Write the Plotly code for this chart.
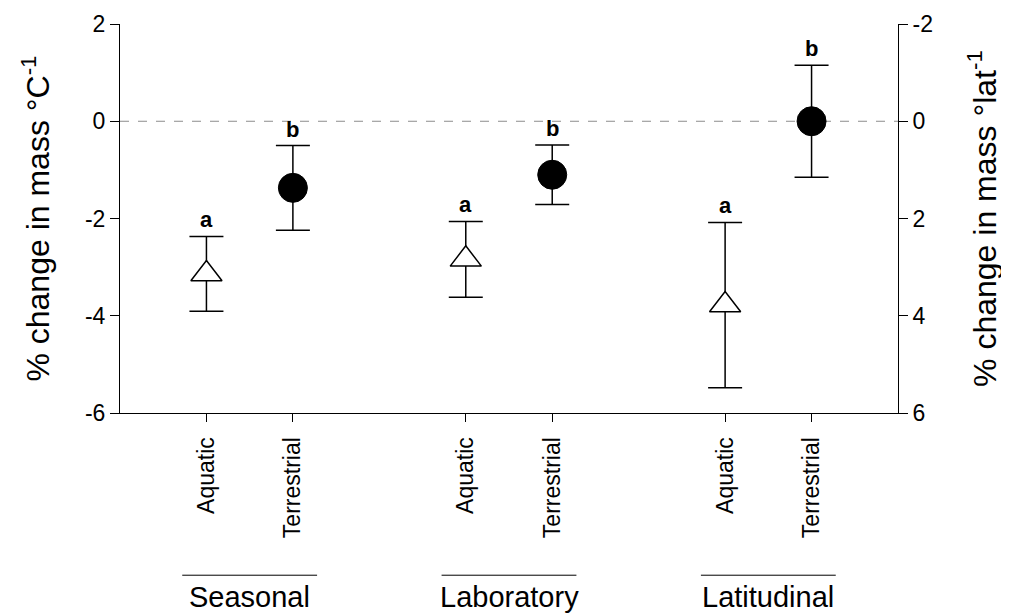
import plotly.graph_objects as go

# ---- data ----
groups = ["Seasonal", "Laboratory", "Latitudinal"]
positions = [1, 2, 4, 5, 7, 8]
tick_labels = ["Aquatic", "Terrestrial", "Aquatic", "Terrestrial", "Aquatic", "Terrestrial"]
left_ticks = [-6, -4, -2, 0, 2]
left_tick_text = ["-6", "-4", "-2", "0", "2"]
right_ticks = [-2, 0, 2, 4, 6]
right_tick_text = ["-2", "0", "2", "4", "6"]

# left axis (% change per °C): seasonal & laboratory
seasonal_mean = [-3.14, -1.37]
seasonal_err = [0.77, 0.87]
laboratory_mean = [-2.84, -1.10]
laboratory_err = [0.78, 0.61]
# right axis (% change per °lat, reversed): latitudinal
latitudinal_mean = [3.78, 0.0]
latitudinal_err = [1.70, 1.15]

letters = ["a", "b", "a", "b", "a", "b"]

FONT = "Liberation Sans, Arial, sans-serif"

fig = go.Figure()

def add_pair(xs, means, errs, yaxis):
    # aquatic: open triangle
    fig.add_trace(go.Scatter(
        x=[xs[0]], y=[means[0]], mode="markers", yaxis=yaxis,
        marker=dict(symbol="triangle-up", size=27, color="white",
                    line=dict(color="black", width=1.5)),
        error_y=dict(type="data", array=[errs[0]], visible=True,
                     color="black", thickness=1.5, width=17),
        showlegend=False, hoverinfo="skip"))
    # terrestrial: filled circle
    fig.add_trace(go.Scatter(
        x=[xs[1]], y=[means[1]], mode="markers", yaxis=yaxis,
        marker=dict(symbol="circle", size=29, color="black",
                    line=dict(color="black", width=1)),
        error_y=dict(type="data", array=[errs[1]], visible=True,
                     color="black", thickness=1.5, width=17),
        showlegend=False, hoverinfo="skip"))

add_pair(positions[0:2], seasonal_mean, seasonal_err, "y")
add_pair(positions[2:4], laboratory_mean, laboratory_err, "y")
add_pair(positions[4:6], latitudinal_mean, latitudinal_err, "y2")

# significance letters above the upper caps
tops = [m + e for m, e in zip(seasonal_mean, seasonal_err)] + \
       [m + e for m, e in zip(laboratory_mean, laboratory_err)]
for x, t, l in zip(positions[:4], tops, letters[:4]):
    fig.add_annotation(x=x, y=t, xref="x", yref="y", text="<b>%s</b>" % l,
                       showarrow=False, yanchor="bottom", yshift=2,
                       font=dict(family=FONT, size=22, color="black"))
lat_tops = [m - e for m, e in zip(latitudinal_mean, latitudinal_err)]
for x, t, l in zip(positions[4:], lat_tops, letters[4:]):
    fig.add_annotation(x=x, y=t, xref="x", yref="y2", text="<b>%s</b>" % l,
                       showarrow=False, yanchor="bottom", yshift=2,
                       font=dict(family=FONT, size=22, color="black"))

# dashed zero line
fig.add_shape(type="line", xref="paper", yref="y", x0=0, x1=1, y0=0, y1=0,
              line=dict(color="#8c8c8c", width=1, dash="dash"), layer="below")

# group labels with lines above them
for i, g in enumerate(groups):
    c = (positions[2 * i] + positions[2 * i + 1]) / 2
    fig.add_shape(type="line", xref="x", yref="paper", x0=c - 0.78, x1=c + 0.78,
                  y0=-0.417, y1=-0.417, line=dict(color="black", width=1))
    fig.add_annotation(x=c, y=-0.472, xref="x", yref="paper", text=g,
                       showarrow=False, yanchor="middle",
                       font=dict(family=FONT, size=29, color="black"))

fig.update_layout(
    width=1001, height=606,
    margin=dict(l=112, r=111, t=16, b=201, autoexpand=False),
    paper_bgcolor="white", plot_bgcolor="white",
    font=dict(family=FONT, color="black"),
    showlegend=False,
    xaxis=dict(range=[0, 9], tickmode="array", tickvals=positions,
               ticktext=tick_labels, tickangle=-90, automargin=False,
               ticks="outside", ticklen=8, tickwidth=1, tickcolor="black",
               ticklabelstandoff=6,
               showline=True, linecolor="black", linewidth=1,
               showgrid=False, zeroline=False,
               tickfont=dict(family=FONT, size=23, color="black")),
    yaxis=dict(range=[-6, 2], tickmode="array", tickvals=left_ticks,
               ticktext=left_tick_text, automargin=False,
               ticks="outside", ticklen=9, tickwidth=1, tickcolor="black",
               showline=True, linecolor="black", linewidth=1,
               showgrid=False, zeroline=False,
               tickfont=dict(family=FONT, size=23, color="black"),
               title=dict(text="% change in mass °C<sup>-1</sup>",
                          font=dict(family=FONT, size=32, color="black"),
                          standoff=25)),
    yaxis2=dict(range=[6, -2], tickmode="array", tickvals=right_ticks,
                ticktext=right_tick_text, overlaying="y", side="right",
                automargin=False,
                ticks="outside", ticklen=9, tickwidth=1, tickcolor="black",
                showline=True, linecolor="black", linewidth=1,
                showgrid=False, zeroline=False,
                tickfont=dict(family=FONT, size=23, color="black"),
                title=dict(text="% change in mass °lat<sup>-1</sup>",
                           font=dict(family=FONT, size=32, color="black"),
                           standoff=41)),
)

fig.write_html("out.html")
